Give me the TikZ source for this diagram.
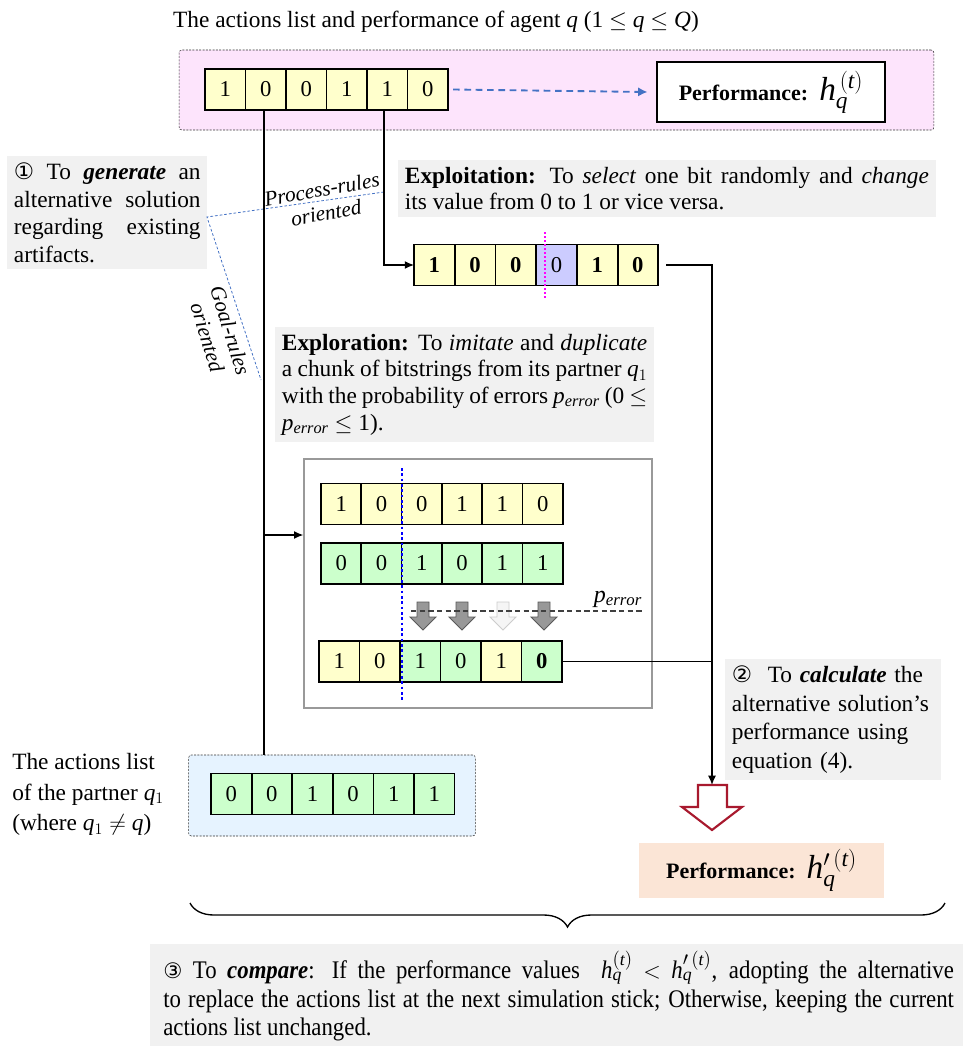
\documentclass[tikz,border=0pt]{standalone}
\usepackage{fontspec}
\setmainfont{Liberation Serif}
\newfontfamily\symfont{DejaVu Sans}
\newfontfamily\condfont[FakeStretch=0.9]{Liberation Serif}
\usetikzlibrary{arrows.meta,decorations.pathreplacing,calc}
\definecolor{yel}{HTML}{FFFFCC}
\definecolor{grn}{HTML}{CCFFCC}
\definecolor{lav}{HTML}{CCCCFF}
\definecolor{pinkbg}{HTML}{FDE4FC}
\definecolor{bluebg}{HTML}{E6F3FF}
\definecolor{graybg}{HTML}{F1F1F1}
\definecolor{peach}{HTML}{FBE5D6}
\definecolor{lblue}{HTML}{4472C4}
\definecolor{darkred}{HTML}{A8192E}
\definecolor{magenta2}{HTML}{FF00FF}
\begin{document}
\begin{tikzpicture}[x=0.75pt,y=-0.75pt,
  cell/.style={draw=black,line width=1.3pt,minimum width=30.4pt,minimum height=30.6pt,inner sep=0pt,outer sep=0pt,font=\fontsize{17}{20}\selectfont},
  txtbox/.style={fill=graybg,inner sep=5pt,align=justify,font=\fontsize{17.5}{20}\selectfont},
  conn/.style={line width=1.1pt,draw=black},
  tip/.style={-{Latex[length=7pt,width=6pt]}},
  bluedash/.style={draw=lblue,dashed,line width=0.6pt,dash pattern=on 2pt off 1.5pt},
  garrow/.style={fill=gray!85!black!70,draw=gray!70!black,line width=0.7pt},
  garrowlight/.style={fill=gray!8,draw=gray!40,line width=0.7pt}
]
\useasboundingbox (0,0) rectangle (963,1046);

% title
\node[font=\fontsize{17.5}{20}\selectfont] (title) at (436,22) {The actions list and performance of agent \textit{q} (1 $\leq$ \textit{q} $\leq$ \textit{Q})};

% pink background box
\node[draw=black!80,dashed,dash pattern=on 1.5pt off 1pt,fill=pinkbg,rounded corners=2pt,minimum width=566pt,minimum height=60pt,inner sep=0pt] (topbox) at (556.5,90) {};

% top bitstring
\foreach \v [count=\i] in {1,0,0,1,1,0} {
  \node[cell,fill=yel] (t\i) at ({205+20.25+40.5*(\i-1)},89.5) {\v};
}
% performance box
\node[draw=black,fill=white,line width=0.8pt,minimum width=171pt,minimum height=45pt,inner sep=0pt,font=\fontsize{16.5}{20}\selectfont\bfseries] (perf1) at (771,92) {Performance:\ \ {\fontsize{25}{26}\selectfont$\mathit{h}_{\mathit{q}}^{\,(\mathit{t})}$}};
\draw[draw=lblue,line width=1.4pt,dash pattern=on 5pt off 3.5pt,-{Latex[length=7pt,width=7pt]}] ($(t6.east)+(5,0)$) -- ($(perf1.west)+(-9,0)$);

% exploitation text
\node[txtbox,text width=393pt,anchor=north west] (exploit) at (398,160) {\textbf{Exploitation:} To \textit{select} one bit randomly and \textit{change}\linebreak its value from 0 to 1 or vice versa.};

% exploitation bitstring
\foreach \v/\c/\b [count=\i] in {1/yel/1,0/yel/1,0/yel/1,0/lav/0,1/yel/1,0/yel/1} {
  \node[cell,fill=\c] (e\i) at ({414+20.4+40.7*(\i-1)},265) {\ifnum\b=1 \textbf{\v}\else\v\fi};
}
\coordinate (mtop) at (545,232);
\coordinate (mbot) at (545,299);
\draw[draw=magenta2,line width=1.5pt,dash pattern=on 1.5pt off 1.5pt] (mtop) -- (mbot);

% left text box 1
\node[txtbox,text width=140pt,anchor=north west,font=\fontsize{17.5}{20.6}\selectfont] (gen) at (7,156) {{\symfont\fontsize{17}{20}\selectfont\char"2460} To \textbf{\textit{generate}} an alternative solution regarding existing artifacts.};

% exploration text
\node[txtbox,text width=274pt,anchor=north west] (explore) at (275,327) {\textbf{Exploration:} To \textit{imitate} and \textit{duplicate} a chunk of bitstrings from its partner \textit{q}$_1$ with the probability of errors \textit{p}$_{\mathit{error}}$ (0 $\leq$ \textit{p}$_{\mathit{error}}$ $\leq$ 1).};

% blue dashed guide lines
\coordinate (gj) at (207,217);
\coordinate (gp) at (384,192);
\coordinate (gg) at (261,380);
\draw[bluedash] (gp) -- (gj) -- (gg);
\node[rotate=10,align=center,font=\fontsize{16}{18}\selectfont\itshape] (plab) at (324,201) {Process-rules\\oriented};
\node[rotate=-73,align=center,font=\fontsize{16}{18}\selectfont\itshape] (glab) at (219,334) {Goal-rules\\oriented};

% inner box
\node[draw=gray!80,line width=0.9pt,fill=white,minimum width=261pt,minimum height=186.75pt,inner sep=0pt] (inner) at (478,583.5) {};

\foreach \v [count=\i] in {1,0,0,1,1,0} {
  \node[cell,fill=yel] (ra\i) at ({321+20.2+40.3*(\i-1)},504) {\v};
}
\foreach \v [count=\i] in {0,0,1,0,1,1} {
  \node[cell,fill=grn] (rb\i) at ({321+20.2+40.3*(\i-1)},563.5) {\v};
}
\foreach \v/\c/\b [count=\i] in {1/yel/0,0/yel/0,1/grn/0,0/grn/0,1/yel/0,0/grn/1} {
  \node[cell,fill=\c] (rc\i) at ({319+20.2+40.5*(\i-1)},661.5) {\ifnum\b=1 \textbf{\v}\else\v\fi};
}
\coordinate (btop) at (402,468);
\coordinate (bbot) at (402,700);
\draw[draw=blue,line width=2pt,dash pattern=on 2pt off 2pt] (btop) -- (bbot);

% grey down arrows
\foreach \x/\s in {423/garrow,462/garrow,503/garrowlight,544/garrow} {
  \draw[\s] (\x-6,602) -- (\x+6,602) -- (\x+6,617) -- (\x+13,617) -- (\x,630) -- (\x-13,617) -- (\x-6,617) -- cycle;
}
\coordinate (pel) at (411,611);
\coordinate (per) at (642,611);
\draw[draw=black!75,line width=0.8pt,dash pattern=on 4pt off 2.5pt] (pel) -- (per);
\node[font=\fontsize{18}{20}\selectfont] (plabel) at (618,599) {\textit{p}$_{\mathit{error}}$};

% partner
\node[draw=black!80,dashed,dash pattern=on 1.5pt off 1pt,fill=bluebg,rounded corners=2pt,minimum width=215pt,minimum height=60.75pt,inner sep=0pt] (pbox) at (332,795.5) {};
\foreach \v [count=\i] in {0,0,1,0,1,1} {
  \node[cell,fill=grn] (p\i) at ({211+20.3+40.6*(\i-1)},794) {\v};
}
\node[anchor=north west,align=left,font=\fontsize{17.5}{23}\selectfont,inner sep=0pt] (ptext) at (12,753) {The actions list\\of the partner \textit{q}$_1$\\(where \textit{q}$_1 \neq$ \textit{q})};

% connectors
\coordinate (branch) at (264,535);
\draw[conn] (t2.south -| branch) -- (pbox.north -| branch);
\draw[conn,tip] (branch) -- (inner.west |- branch);
\draw[conn,tip] (t5.south -| gp) |- (e1.west);

% red hollow arrow
\coordinate (ra) at (712,785);
\draw[draw=darkred,line width=1.6pt,fill=white] (698,785) -- (727,785) -- (727,807) -- (742,807) -- (712,830) -- (682,807) -- (698,807) -- cycle;
\draw[conn,tip] ($(e6.east)+(8,0)$) -| (ra);
\draw[conn] (rc6.east) -- (rc6.east -| ra);

% calc text
\node[txtbox,text width=152pt,anchor=north west,align=left,font=\fontsize{17.5}{21.4}\selectfont] (calc) at (725,659) {{\symfont\fontsize{17}{20}\selectfont\char"2461}\ \ To \textbf{\textit{calculate}} the alternative solution’s performance using equation (4).};

% performance 2
\node[fill=peach,minimum width=183.75pt,minimum height=41pt,inner sep=0pt,font=\fontsize{16.5}{20}\selectfont\bfseries] (perf2) at (761.5,870.5) {Performance:\ \ {\fontsize{25}{26}\selectfont$\mathit{h}'^{\,(\mathit{t})}_{\mathit{q}}$}};

% brace
\coordinate (bl) at (190,903);
\coordinate (br) at (945,903);
\draw[line width=1pt,decorate,decoration={brace,mirror,amplitude=18pt}] (bl) -- (br);

% compare text
\node[fill=graybg,anchor=north west,minimum width=609.75pt,minimum height=77pt,inner sep=0pt] (cmpbox) at (150,944) {};
\node[anchor=north west,text width=593pt,align=justify,inner sep=0pt,font=\condfont\fontsize{19}{21.5}\selectfont] (cmp) at (163,951) {\lineskiplimit=-20pt\lineskip=0pt{\symfont\fontsize{16}{20}\selectfont\char"2462} To \textbf{\textit{compare}}: If the performance values \ \textit{h}$^{(\mathit{t})}_{\mathit{q}}$ $<$ \textit{h}$'^{\,(\mathit{t})}_{\mathit{q}}$, adopting the alternative\linebreak to replace the actions list at the next simulation stick; Otherwise, keeping the current\linebreak actions list unchanged.};
\end{tikzpicture}
\end{document}
